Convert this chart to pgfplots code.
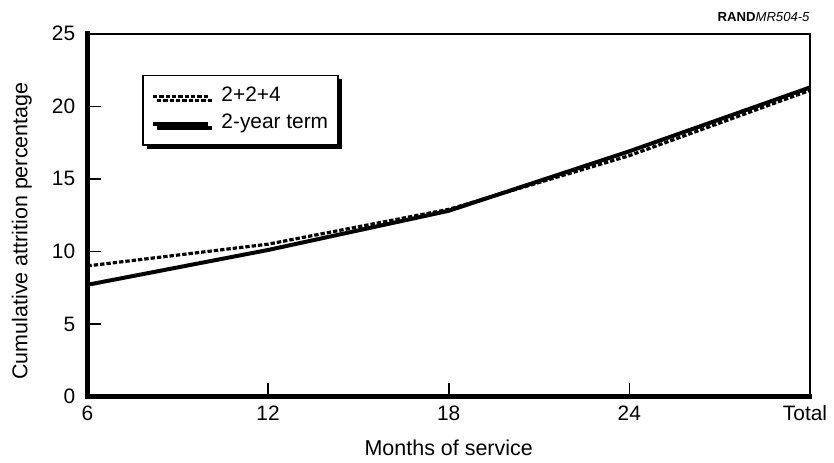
\documentclass[border=0pt]{standalone}
\usepackage{fontspec}
\setmainfont{Liberation Sans}
\usepackage{pgfplots}
\pgfplotsset{compat=1.18}
\usetikzlibrary{shadows}

\begin{document}
\fontsize{10.5}{13}\selectfont
\begin{tikzpicture}
\begin{axis}[
    scale only axis,
    width=363.5pt, height=182.5pt,
    xmin=0, xmax=4, ymin=0, ymax=25,
    xtick={0,1,2,3,4},
    xticklabels={6,12,18,24,{\hspace*{-5pt}Total}},
    ytick={0,5,10,15,20,25},
    xtick pos=bottom, ytick pos=left,
    tick align=inside,
    major tick length=7pt,
    tick style={line width=0.8pt, black},
    axis line style={line width=1pt},
    clip mode=individual,
    xlabel={Months of service},
    ylabel={Cumulative attrition percentage},
    label style={font=\fontsize{10.8}{13}\selectfont},
    xlabel style={at={(axis description cs:0.5,0)}, anchor=base, yshift=-29.5pt},
    ylabel style={at={(axis description cs:0,0.5)}, anchor=center, xshift=-8pt, yshift=33pt},
    /pgf/number format/assume math mode=true,
    ticklabel style={font=\fontsize{10.5}{13}\selectfont},
    xticklabel style={yshift=-1pt},
    yticklabel style={xshift=-2.5pt},
    legend cell align=left,
    legend style={at={(0.0757,0.8877)}, anchor=north west,
        draw=black, line width=0.8pt, fill=white,
        font=\fontsize{10.5}{13}\selectfont,
        nodes={inner sep=1pt, text height=7.5pt, text depth=2.5pt},
        inner xsep=4pt, inner ysep=4.5pt, row sep=2pt,
        drop shadow={shadow xshift=2pt, shadow yshift=-2pt, fill=black, opacity=1}},
    legend image code/.code={\draw[#1] (0pt,0pt) -- (27.5pt,0pt); \path (32.5pt,0pt);},
]
\addplot[black, line width=1.6pt, dash pattern=on 2.2pt off 1pt] coordinates {
    (0, 9.0) (1, 10.5) (2, 12.9) (3, 16.6) (4, 21.1)
};
\addlegendentry{2+2+4}
\addplot[black, line width=2pt] coordinates {
    (0, 7.7) (1, 10.1) (2, 12.8) (3, 16.9) (4, 21.3)
};
\addlegendentry{2-year term}
\draw[line width=2.5pt, line cap=rect] (rel axis cs:0,1) -- (rel axis cs:0,0) -- (rel axis cs:1,0);
\node[anchor=base east, inner sep=0pt, font=\fontsize{6.6}{8}\selectfont] at ([yshift=6pt]rel axis cs:1,1) {\textbf{RAND}\textit{MR504-5}};
\path (rel axis cs:0,0) ++(-44pt,-31pt);
\path (rel axis cs:1,1) ++(9.5pt,17pt);
\end{axis}
\end{tikzpicture}
\end{document}
